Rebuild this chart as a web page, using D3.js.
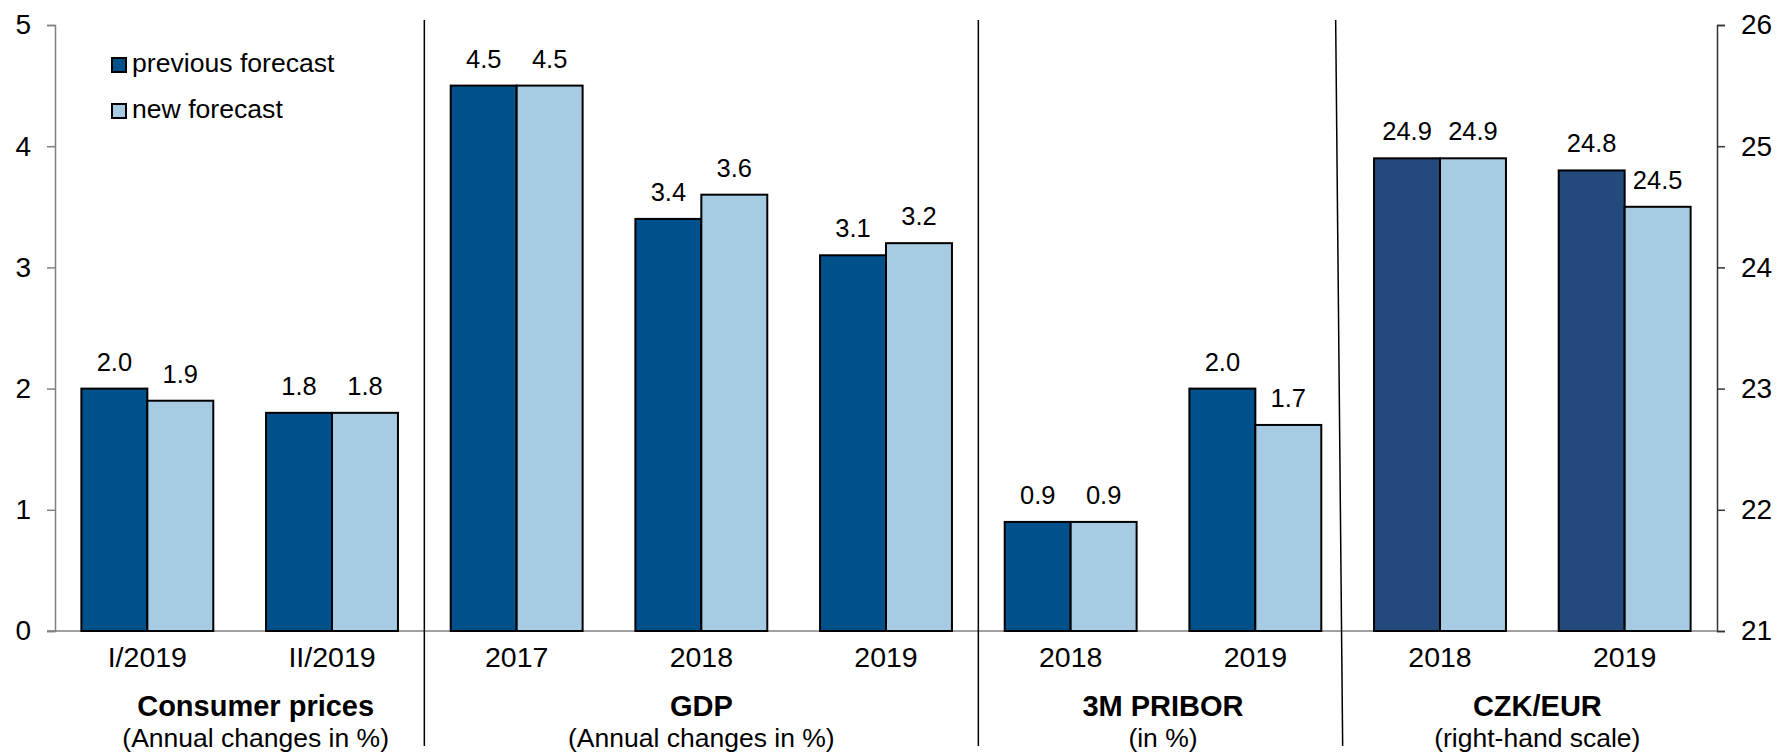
<!DOCTYPE html>
<html>
<head>
<meta charset="utf-8">
<script src="https://cdn.jsdelivr.net/npm/d3@7/dist/d3.min.js"></script>
<style>
  html, body { margin: 0; padding: 0; background: #fff; }
  svg { display: block; font-family: Arial, "Liberation Sans", sans-serif; }
</style>
</head>
<body>
<svg id="chart" width="1777" height="754"></svg>
<script>
// Forecast comparison: previous vs new forecast
const categories = ["I/2019", "II/2019", "2017", "2018", "2019", "2018", "2019", "2018", "2019"];
const previousForecast = [2.0, 1.8, 4.5, 3.4, 3.1, 0.9, 2.0, 24.9, 24.8];
const newForecast      = [1.9, 1.8, 4.5, 3.6, 3.2, 0.9, 1.7, 24.9, 24.5];
// which axis each category is read against
const axisSide = ["left", "left", "left", "left", "left", "left", "left", "right", "right"];

const groupTitles    = ["Consumer prices", "GDP", "3M PRIBOR", "CZK/EUR"];
const groupSubtitles = ["(Annual changes in %)", "(Annual changes in %)", "(in %)", "(right-hand scale)"];
const groupStart     = [0, 2, 5, 7];
const groupEnd       = [2, 5, 7, 9];

const leftTicks  = [0, 1, 2, 3, 4, 5];
const rightTicks = [21, 22, 23, 24, 25, 26];
const seriesNames = ["previous forecast", "new forecast"];

const colPrev = "#00508C";
const colPrevFx = "#234A7C";
const colNew = "#A6CBE3";

const svg = d3.select("#chart");
const plot = { left: 55, right: 1717, top: 25, bottom: 631 };

const x = d3.scaleBand()
  .domain(d3.range(categories.length))
  .range([plot.left, plot.right])
  .paddingInner(0).paddingOuter(0);

const xi = d3.scaleBand()
  .domain(["prev", "new"])
  .range([0, x.bandwidth()])
  .paddingInner(0).paddingOuter(0.4);

const yL = d3.scaleLinear().domain([0, 5]).range([plot.bottom, plot.top]);
const yR = d3.scaleLinear().domain([21, 26]).range([plot.bottom, plot.top]);
const yOf = i => axisSide[i] === "left" ? yL : yR;

// left axis
const gL = svg.append("g").attr("transform", `translate(${plot.left},0)`)
  .call(d3.axisLeft(yL).tickValues(leftTicks).tickSize(8).tickPadding(16).tickFormat(d3.format("d")));
gL.select(".domain").attr("stroke", "#808080").attr("stroke-width", 1.5);
gL.selectAll(".tick line").attr("stroke", "#808080").attr("stroke-width", 1.5);
gL.selectAll(".tick text").attr("font-size", 28).attr("fill", "#000")
  .attr("font-family", "Arial, 'Liberation Sans', sans-serif");

// right axis
const gR = svg.append("g").attr("transform", `translate(${plot.right},0)`)
  .call(d3.axisRight(yR).tickValues(rightTicks).tickSize(8).tickPadding(16).tickFormat(d3.format("d")));
gR.select(".domain").attr("stroke", "#333").attr("stroke-width", 1.5);
gR.selectAll(".tick line").attr("stroke", "#333").attr("stroke-width", 1.5);
gR.selectAll(".tick text").attr("font-size", 28).attr("fill", "#000")
  .attr("font-family", "Arial, 'Liberation Sans', sans-serif");

// baseline
svg.append("line")
  .attr("x1", plot.left - 8).attr("x2", plot.right)
  .attr("y1", yL(0)).attr("y2", yL(0))
  .attr("stroke", "#808080").attr("stroke-width", 1.5);

// bars
const rows = categories.map((c, i) => ({ i, prev: previousForecast[i], nw: newForecast[i] }));
const barG = svg.append("g");
rows.forEach(r => {
  const y = yOf(r.i);
  const base = y.domain()[0];
  const x0 = x(r.i);
  [["prev", r.prev, axisSide[r.i] === "right" ? colPrevFx : colPrev], ["new", r.nw, colNew]].forEach(([k, v, col]) => {
    barG.append("rect")
      .attr("x", x0 + xi(k)).attr("width", xi.bandwidth())
      .attr("y", y(v)).attr("height", y(base) - y(v))
      .attr("fill", col).attr("stroke", "#000").attr("stroke-width", 2);
    barG.append("text")
      .attr("x", x0 + xi(k) + xi.bandwidth() / 2)
      .attr("y", y(v) - 18)
      .attr("text-anchor", "middle").attr("font-size", 25.5)
      .text(v.toFixed(1));
  });
  svg.append("text")
    .attr("x", x0 + x.bandwidth() / 2).attr("y", 667)
    .attr("text-anchor", "middle").attr("font-size", 28.5)
    .text(categories[r.i]);
});

// group separators
const sepTilt = [0, 0, 7];
groupStart.slice(1).forEach((s, k) => {
  const bx = x(s) - (k === 2 ? 12 : 0);
  svg.append("line")
    .attr("x1", bx).attr("y1", 20)
    .attr("x2", bx + sepTilt[k]).attr("y2", 746)
    .attr("stroke", "#000").attr("stroke-width", 1.5);
});

// group titles
const titleShift = [16, 0, 0, 5];
groupTitles.forEach((t, k) => {
  const cx = (x(groupStart[k]) + x(groupEnd[k] - 1) + x.bandwidth()) / 2 + titleShift[k];
  svg.append("text").attr("x", cx).attr("y", 716)
    .attr("text-anchor", "middle").attr("font-size", 29).attr("font-weight", "bold")
    .text(t);
  svg.append("text").attr("x", cx).attr("y", 747)
    .attr("text-anchor", "middle").attr("font-size", 26.5)
    .text(groupSubtitles[k]);
});

// legend
const legend = svg.append("g").attr("transform", "translate(112,58)");
seriesNames.forEach((n, k) => {
  const g = legend.append("g").attr("transform", `translate(0,${k * 46})`);
  g.append("rect").attr("width", 14).attr("height", 14)
    .attr("fill", k === 0 ? colPrev : colNew).attr("stroke", "#000").attr("stroke-width", 2);
  g.append("text").attr("x", 20).attr("y", 14).attr("font-size", 26.6).text(n);
});
</script>
</body>
</html>
